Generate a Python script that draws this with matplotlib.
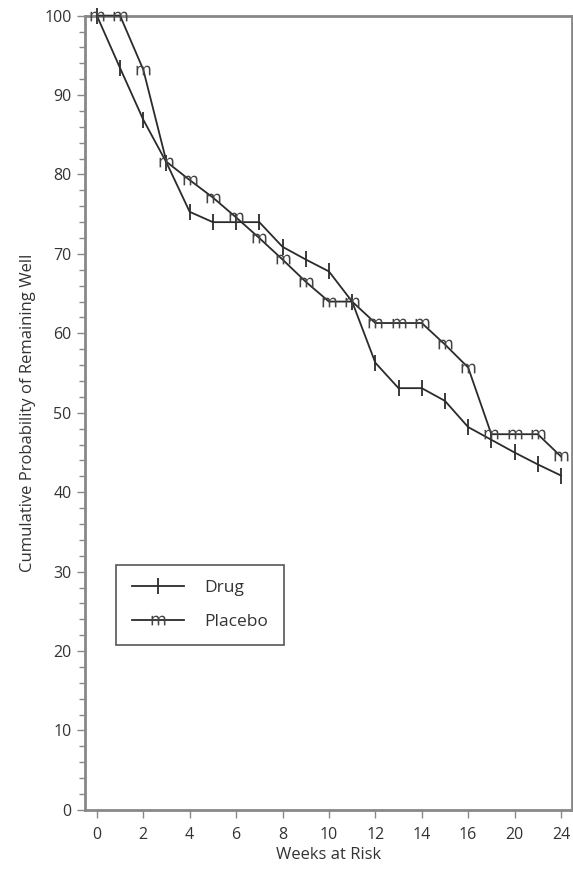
import matplotlib.pyplot as plt
from matplotlib.ticker import MultipleLocator

plt.rcParams['font.family'] = ['Open Sans', 'DejaVu Sans']

# time points (category positions, labelled with weeks)
points = list(range(21))
week_labels = ["0", "2", "4", "6", "8", "10", "12", "14", "16", "20", "24"]

drug = [100, 93.4, 86.9, 81.5, 75.3, 74.0, 74.0, 74.0, 70.9, 69.3, 67.8,
        64.0, 56.3, 53.1, 53.1, 51.5, 48.2, 46.6, 45.0, 43.5, 42.1]
placebo = [100, 100, 93.2, 81.6, 79.3, 77.1, 74.6, 72.0, 69.3, 66.5, 64.0,
           64.0, 61.3, 61.3, 61.3, 58.6, 55.7, 47.3, 47.3, 47.3, 44.5]

ink = "#2b2b2b"
frame = "#888888"

fig = plt.figure(figsize=(5.73, 8.69), dpi=100)
ax = fig.add_axes([0.148, 0.068, 0.850, 0.914])

ax.plot(points, drug, color=ink, lw=1.3, marker="|", markersize=11,
        markeredgewidth=1.3, label="Drug", zorder=3, clip_on=False)
ax.plot(points, placebo, color=ink, lw=1.3, marker=r"$\mathrm{m}$", markersize=10,
        markeredgewidth=0, markerfacecolor="#444444", label="Placebo",
        zorder=3, clip_on=False)

ax.set_xlim(-0.52, 20.47)
ax.set_ylim(0, 100)
ax.set_xticks(points[::2])
ax.set_xticklabels(week_labels)
ax.yaxis.set_major_locator(MultipleLocator(10))
ax.yaxis.set_minor_locator(MultipleLocator(2))

for s in ax.spines.values():
    s.set_color(frame)
    s.set_linewidth(2)

ax.tick_params(axis="both", which="major", length=6, width=1, color=frame,
               labelsize=11.5, labelcolor="#333333")
ax.tick_params(axis="x", pad=6)
ax.tick_params(axis="y", which="minor", length=4, width=1, color=frame)

ax.set_xlabel("Weeks at Risk", fontsize=12, color="#333333", labelpad=3)
ax.set_ylabel("Cumulative Probability of Remaining Well", fontsize=12,
              color="#333333", labelpad=6)

leg = ax.legend(loc="lower left", bbox_to_anchor=(0.064, 0.207), fontsize=12.5,
                fancybox=False, handlelength=3.0, borderpad=0.9,
                labelspacing=1.0, handletextpad=1.2, borderaxespad=0)
leg.get_frame().set_edgecolor(ink)
leg.get_frame().set_linewidth(1.2)
for t in leg.get_texts():
    t.set_color("#333333")

fig.savefig("out.png", dpi=100)
